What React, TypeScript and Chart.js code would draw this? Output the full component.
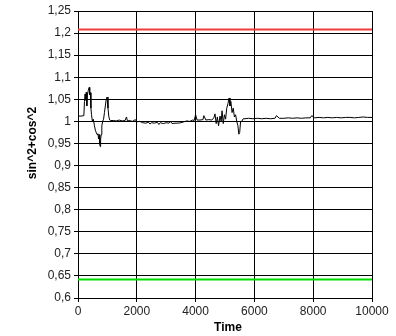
import React, { useEffect, useRef } from "react";
import { Chart, registerables } from "chart.js";

Chart.register(...registerables);

const times = [
  0, 100, 200, 220, 240, 260, 280, 300, 320, 350,
  380, 400, 420, 440, 460, 490, 520, 560, 590, 620,
  650, 680, 700, 720, 740, 755, 770, 790, 810, 840,
  870, 900, 930, 960, 990, 1020, 1050, 1080, 1100, 1200,
  1300, 1400, 1500, 1600, 1650, 1680, 1750, 1850, 1950, 2000,
  2100, 2200, 2300, 2400, 2450, 2500, 2600, 2700, 2750, 2800,
  2900, 3000, 3100, 3150, 3200, 3300, 3400, 3500, 3600, 3700,
  3800, 3900, 3950, 4000, 4050, 4150, 4250, 4280, 4350, 4450,
  4550, 4620, 4660, 4700, 4740, 4780, 4830, 4870, 4900, 4940,
  4980, 5020, 5060, 5100, 5140, 5170, 5200, 5240, 5280, 5320,
  5360, 5400, 5440, 5470, 5500, 5530, 5570, 5620, 5680, 5800,
  5950, 6100, 6250, 6400, 6550, 6700, 6750, 6850, 7000, 7150,
  7300, 7450, 7600, 7750, 7900, 7950, 8050, 8200, 8350, 8500,
  8650, 8800, 8950, 9100, 9250, 9400, 9550, 9700, 9850, 10000,
];

const values = [
  1.012, 1.012, 1.013, 1.045, 1.062, 1.048, 1.066, 1.035, 1.06, 1.07,
  1.077, 1.06, 1.065, 1.03, 1.015, 1.0, 1.005, 0.99, 0.98, 0.975,
  0.97, 0.972, 0.96, 0.97, 0.948, 0.943, 0.96, 0.97, 0.99, 1.0,
  1.005, 1.02, 1.035, 1.05, 1.055, 1.03, 1.01, 1.003, 1.002, 1.002,
  1.001, 1.003, 1.001, 1.002, 1.01, 1.001, 1.002, 1.0, 1.004, 0.999,
  1.0, 0.997, 0.996, 0.998, 0.994, 0.997, 0.996, 0.998, 0.993, 0.997,
  0.995, 0.997, 0.996, 1.0, 0.995, 0.996, 0.996, 0.997, 0.999, 1.001,
  1.0, 1.003, 1.002, 1.015, 1.003, 1.003, 1.004, 1.013, 1.003, 1.004,
  1.003, 1.008, 1.017, 0.995, 1.01, 0.99, 1.012, 1.0, 1.024, 0.995,
  1.015, 1.005, 1.03, 1.04, 1.053, 1.035, 1.045, 1.02, 1.03, 1.01,
  1.015, 1.0, 0.99, 0.971, 0.975, 1.0, 1.0, 1.006, 1.006, 1.007,
  1.006, 1.007, 1.006, 1.007, 1.006, 1.007, 1.013, 1.007, 1.007, 1.008,
  1.007, 1.008, 1.007, 1.008, 1.008, 1.013, 1.008, 1.009, 1.008, 1.009,
  1.008, 1.009, 1.008, 1.009, 1.009, 1.008, 1.009, 1.01, 1.009, 1.009,
];

const upperLimit = 1.208;
const lowerLimit = 0.642;
const yTicksMin = 0.6;
const yTicksMax = 1.25;
const yStep = 0.05;
const xMin = 0;
const xMax = 10000;
const xStep = 2000;

const yTitle = "sin^2+cos^2";
const xTitle = "Time";

const FONT = "'Liberation Sans', Arial, sans-serif";

const titlesPlugin = {
  id: "axisTitles",
  afterDraw(chart: any) {
    const { ctx, chartArea } = chart;
    ctx.save();
    ctx.fillStyle = "#000";
    ctx.font = `bold 12px ${FONT}`;
    ctx.textAlign = "center";
    ctx.textBaseline = "middle";
    ctx.fillText(xTitle, (chartArea.left + chartArea.right) / 2 + 3, 328);
    ctx.translate(33, 143);
    ctx.rotate(-Math.PI / 2);
    ctx.fillText(yTitle, 0, 0);
    ctx.restore();
  },
};

export default function App() {
  const ref = useRef<HTMLCanvasElement>(null);
  useEffect(() => {
    if (!ref.current) return;
    const data = times.map((t, i) => ({ x: t, y: values[i] }));
    const chart = new Chart(ref.current, {
      type: "line",
      data: {
        datasets: [
          {
            data,
            borderColor: "#000",
            borderWidth: 1,
            pointRadius: 0,
            tension: 0,
          },
          {
            data: [
              { x: xMin, y: upperLimit },
              { x: xMax, y: upperLimit },
            ],
            borderColor: "rgb(240,60,60)",
            borderWidth: 2,
            pointRadius: 0,
          },
          {
            data: [
              { x: xMin, y: lowerLimit },
              { x: xMax, y: lowerLimit },
            ],
            borderColor: "rgb(0,220,0)",
            borderWidth: 2,
            pointRadius: 0,
          },
        ],
      },
      options: {
        responsive: false,
        animation: false,
        layout: { padding: { top: 11, right: 24, left: 0, bottom: 0 } },
        plugins: { legend: { display: false }, tooltip: { enabled: false } },
        scales: {
          x: {
            type: "linear",
            min: xMin,
            max: xMax,
            ticks: {
              stepSize: xStep,
              color: "#222",
              font: { family: FONT, size: 12 },
              padding: 2,
              maxRotation: 0,
              callback: (v: any) => String(Math.round(Number(v))),
            },
            grid: { color: "#000", lineWidth: 1, tickLength: 4 },
            border: { color: "#000" },
            afterFit: (s: any) => {
              s.height = 38;
            },
          },
          y: {
            type: "linear",
            min: yTicksMin,
            max: yTicksMax,
            ticks: {
              stepSize: yStep,
              color: "#222",
              font: { family: FONT, size: 12 },
              padding: 3,
              callback: (v: any) => String(Math.round(Number(v) * 100) / 100).replace(".", ","),
            },
            grid: { color: "#000", lineWidth: 1, tickLength: 4 },
            border: { color: "#000" },
            afterFit: (s: any) => {
              s.width = 78;
            },
          },
        },
      },
      plugins: [titlesPlugin],
    });
    return () => chart.destroy();
  }, []);
  return (
    <div style={{ position: "absolute", left: 0, top: 0, width: 396, height: 336, background: "#fff" }}>
      <canvas ref={ref} width={396} height={336} style={{ width: 396, height: 336 }} />
    </div>
  );
}
